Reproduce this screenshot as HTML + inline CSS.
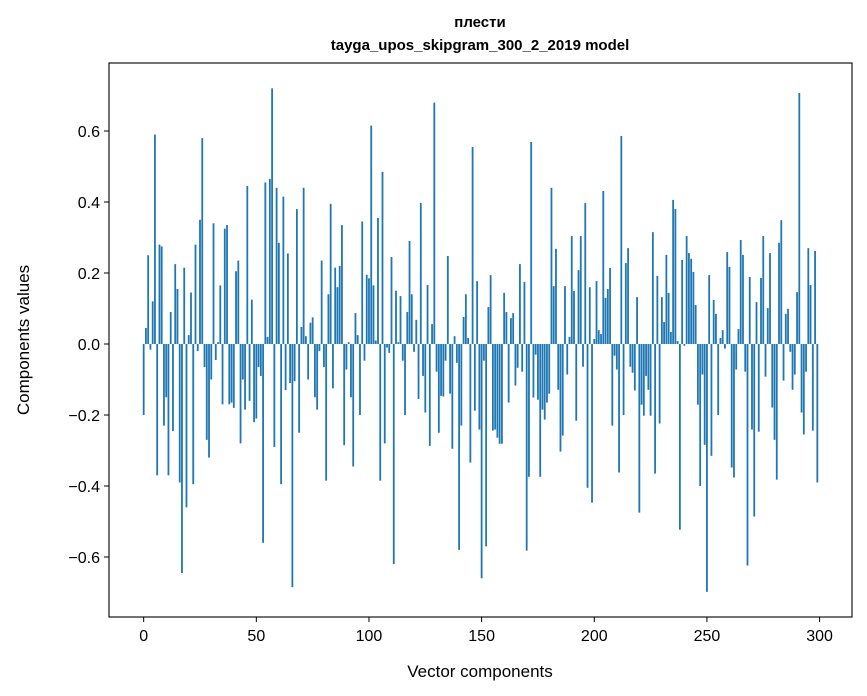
<!DOCTYPE html>
<html><head><meta charset="utf-8">
<style>
html,body{margin:0;padding:0;background:#fff;}
svg{display:block;font-family:"Liberation Sans","DejaVu Sans",sans-serif;}
</style></head>
<body>
<svg id="chart" width="867" height="696" viewBox="0 0 867 696" xmlns="http://www.w3.org/2000/svg">
<rect x="0" y="0" width="867" height="696" fill="#fff"/>
<text x="480" y="27" text-anchor="middle" font-size="15" font-weight="bold">плести</text>
<text x="480" y="50" text-anchor="middle" font-size="15" font-weight="bold">tayga_upos_skipgram_300_2_2019 model</text>
<g id="bars"></g>
<g id="axes"></g>
<text x="480" y="677" text-anchor="middle" font-size="17">Vector components</text>
<text transform="translate(29,340) rotate(-90)" text-anchor="middle" font-size="17">Components values</text>
</svg>
<script>
const values = [
-0.20,0.045,0.25,-0.016,0.12,0.59,-0.37,0.28,0.275,-0.23,
-0.15,-0.37,0.09,-0.245,0.225,0.155,-0.39,-0.645,0.215,-0.46,
0.025,0.145,-0.395,0.28,-0.02,0.35,0.58,-0.065,-0.27,-0.32,
-0.10,0.34,-0.045,0.005,0.165,-0.17,0.325,0.335,-0.17,-0.165,
-0.18,0.205,0.235,-0.28,-0.10,-0.185,0.445,-0.16,0.125,-0.22,
-0.21,-0.065,-0.09,-0.56,0.455,0.02,0.465,0.72,-0.29,0.44,
0.285,-0.395,0.415,-0.13,0.255,-0.11,-0.685,-0.105,0.38,-0.25,
0.048,0.44,0.022,-0.10,0.06,0.075,-0.15,-0.185,-0.02,0.235,
-0.065,-0.385,0.14,0.395,-0.125,0.215,0.16,0.22,0.335,-0.285,
-0.072,0.005,-0.15,-0.345,0.087,0.025,-0.20,0.345,-0.047,0.195,
0.185,0.615,0.165,0.01,0.355,-0.385,0.485,-0.28,-0.01,-0.025,
0.245,-0.62,0.15,0.005,0.135,-0.047,-0.2,0.09,0.29,0.14,
-0.022,0.068,-0.155,0.397,-0.09,-0.193,0.166,-0.287,0.056,0.68,
-0.078,-0.25,-0.146,-0.148,-0.047,0.248,-0.14,-0.295,0.022,-0.053,
-0.58,-0.23,0.076,0.14,0.017,-0.334,0.555,-0.188,0.177,-0.241,
-0.66,-0.047,-0.57,0.104,0.194,-0.244,-0.241,-0.264,-0.281,-0.281,
0.144,0.09,-0.165,0.073,0.087,-0.117,-0.067,0.225,-0.078,0.175,
-0.582,-0.374,0.569,-0.151,-0.03,-0.157,-0.374,-0.185,-0.213,-0.165,
-0.14,0.44,0.163,0.268,-0.129,-0.303,-0.258,0.163,-0.086,0.02,
0.304,0.149,-0.216,0.208,0.304,-0.064,0.397,-0.405,0.16,-0.447,
0.014,0.177,0.039,0.028,0.431,0.13,0.155,0.214,-0.23,-0.033,
-0.072,-0.362,0.586,-0.2,0.228,0.27,-0.064,-0.081,-0.131,0.132,
-0.475,-0.171,-0.202,-0.09,-0.129,-0.202,0.315,-0.365,0.192,-0.224,
0.132,0.062,0.251,0.144,0.034,0.406,0.38,0.008,-0.523,0.237,
-0.005,0.304,0.256,0.24,0.203,0.11,-0.171,-0.4,-0.086,-0.284,
-0.698,0.194,-0.315,0.124,0.085,-0.2,0.017,0.039,-0.013,0.259,
0.217,-0.348,-0.376,-0.072,0.042,0.293,0.251,-0.078,-0.624,0.189,
-0.241,-0.486,0.118,-0.247,0.186,0.304,-0.092,0.101,0.256,-0.179,
-0.27,-0.382,0.285,0.349,-0.103,0.085,0.099,-0.022,-0.129,-0.086,
0.146,0.707,-0.193,-0.255,-0.078,0.27,0.166,-0.244,0.262,-0.39
];
const xTicks = [0,50,100,150,200,250,300];
const yTicks = [-0.6,-0.4,-0.2,0.0,0.2,0.4,0.6];

const L=109,R=852,T=63,B=617;
const xMin=-15.39,xMax=314.39,yMin=-0.769,yMax=0.7915;
const sx=v=>L+(v-xMin)/(xMax-xMin)*(R-L);
const sy=v=>B-(v-yMin)/(yMax-yMin)*(B-T);
const NS="http://www.w3.org/2000/svg";
const bars=document.getElementById('bars');
values.forEach((v,i)=>{
  const r=document.createElementNS(NS,'rect');
  const x0=sx(i-0.4),x1=sx(i+0.4);
  const y0=sy(Math.max(v,0)),y1=sy(Math.min(v,0));
  r.setAttribute('x',x0);r.setAttribute('width',x1-x0);
  r.setAttribute('y',y0);r.setAttribute('height',Math.max(y1-y0,0.3));
  r.setAttribute('fill','#1f77b4');
  
  
  bars.appendChild(r);
});
const axes=document.getElementById('axes');
const frame=document.createElementNS(NS,'rect');
frame.setAttribute('x',L);frame.setAttribute('y',T);frame.setAttribute('width',R-L);frame.setAttribute('height',B-T);
frame.setAttribute('fill','none');frame.setAttribute('stroke','#000');frame.setAttribute('stroke-width','1.1');


axes.appendChild(frame);
xTicks.forEach(t=>{
  const x=sx(t);
  const l=document.createElementNS(NS,'line');
  l.setAttribute('x1',x);l.setAttribute('x2',x);l.setAttribute('y1',B);l.setAttribute('y2',B+5);
  l.setAttribute('stroke','#000');
  
  
  axes.appendChild(l);
  const tx=document.createElementNS(NS,'text');
  tx.setAttribute('x',x);tx.setAttribute('y',B+24);tx.setAttribute('text-anchor','middle');tx.setAttribute('font-size','16');
  tx.textContent=String(t);
  
  
  axes.appendChild(tx);
});
yTicks.forEach(t=>{
  const y=sy(t);
  const l=document.createElementNS(NS,'line');
  l.setAttribute('x1',L-5);l.setAttribute('x2',L);l.setAttribute('y1',y);l.setAttribute('y2',y);
  l.setAttribute('stroke','#000');
  
  
  axes.appendChild(l);
  const tx=document.createElementNS(NS,'text');
  tx.setAttribute('x',L-9);tx.setAttribute('y',y+6);tx.setAttribute('text-anchor','end');tx.setAttribute('font-size','16');
  tx.textContent=(t<0?'\u2212':'')+Math.abs(t).toFixed(1);
  
  
  axes.appendChild(tx);
});
</script>
</body></html>
